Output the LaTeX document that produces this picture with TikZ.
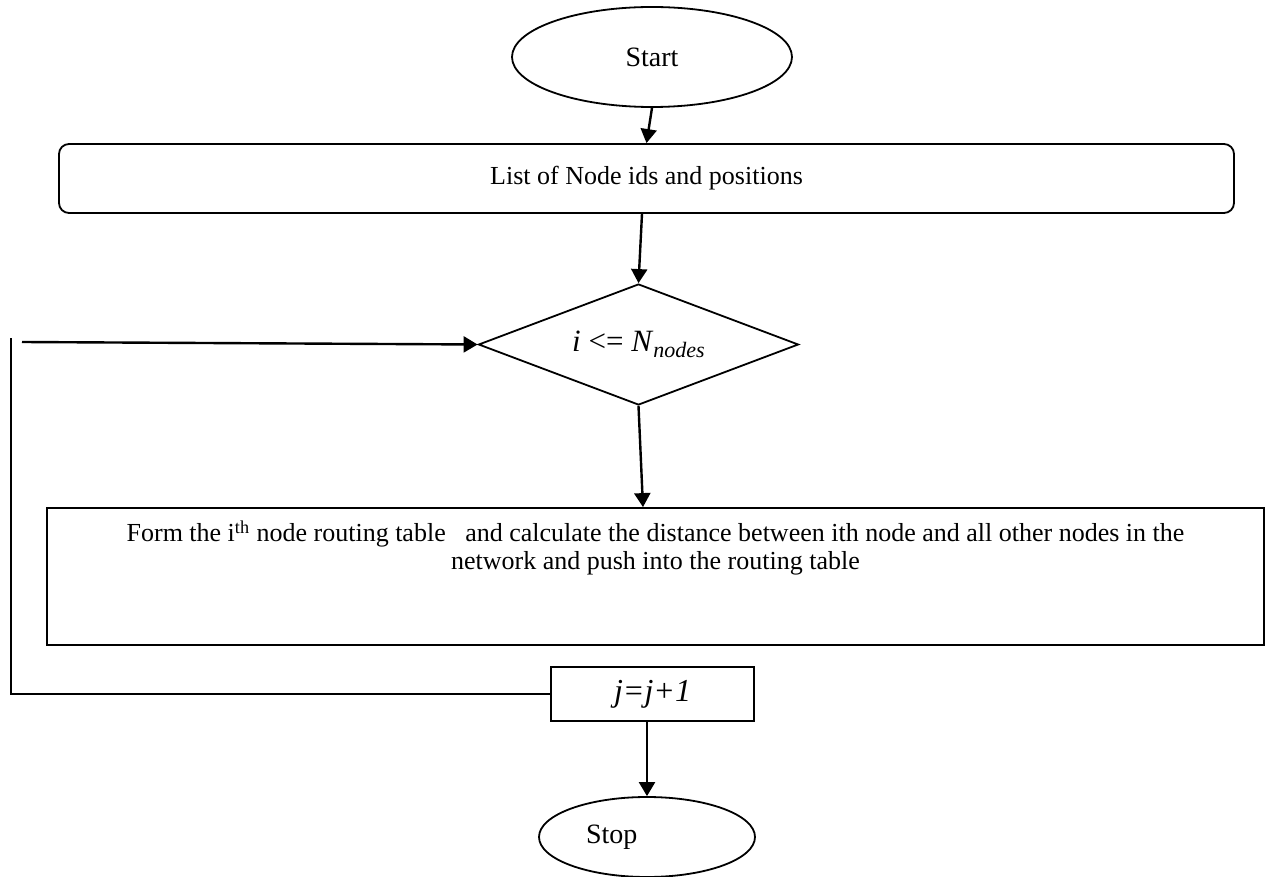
\documentclass[tikz,border=0pt]{standalone}
\usepackage{fontspec}
\setmainfont{Liberation Serif}
\usetikzlibrary{arrows.meta, shapes.geometric, positioning, calc}
\newcommand{\flow}[2]
{
	\draw[-{Triangle[length=7pt, width=8pt]}, line width=1.2pt] (#1) -- (#2)
}

\begin{document}
\begin{tikzpicture}[x=0.5pt, y=-0.5pt,
	every node/.append style={draw=black, line width=0.9pt, inner sep=0pt},
	font=\fontsize{13}{14}\selectfont]

	\useasboundingbox (0,0) rectangle (1270,877);
	\node[ellipse, minimum width=140pt, minimum height=50pt, font=\fontsize{14}{16}\selectfont] at (652, 57) (start){Start};
	\node[rectangle, rounded corners=5pt, minimum width=587.5pt, minimum height=34.5pt] at (646.5, 178.5) (list){List of Node ids and positions};
	\node[diamond, shape aspect=2.64, minimum width=160pt, minimum height=60.5pt, font=\fontsize{15.5}{17}\selectfont] at (638.5, 344.5) (cond){\textit{i} <= \textit{N}\raisebox{-0.45ex}{\fontsize{11}{12}\selectfont\textit{nodes}}};
	\node[rectangle, minimum width=608.5pt, minimum height=68.5pt] at (655.5, 576.5) (form){\parbox[c][56pt][t]{600pt}{\centering Form the i\textsuperscript{th} node routing table \ \ and calculate the distance between ith node and all other nodes in the\\ network and push into the routing table}};
	\node[rectangle, minimum width=101.5pt, minimum height=27pt, font=\fontsize{16}{18}\selectfont\itshape] at (652.5, 694) (incr){j=j+1};
	\node[ellipse, minimum width=108pt, minimum height=40pt, text width=61pt, align=flush left, font=\fontsize{14}{16}\selectfont] at (647, 837) (stop){Stop};
	\coordinate (looptop) at (11, 338);
	\coordinate (loopin) at (22, 342);
	\flow{start.south}{list.north};
	\flow{list.south -| 642,0}{cond.north};
	\flow{cond.south}{form.north -| 643,0};
	\flow{incr.south -| stop.north}{stop.north};
	\flow{loopin}{cond.west};
	\draw[line width=0.9pt] (incr.west) -| (looptop);
\end{tikzpicture}
\end{document}
